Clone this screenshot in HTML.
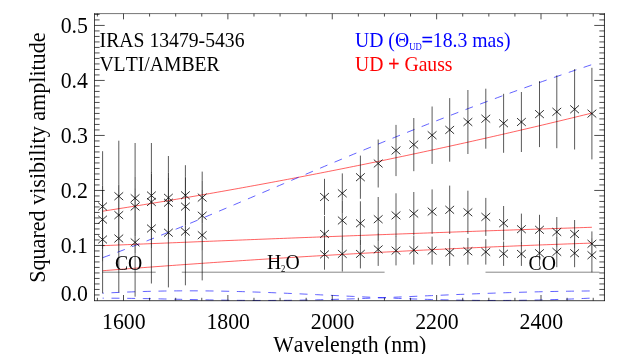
<!DOCTYPE html>
<html><head><meta charset="utf-8"><title>IRAS 13479-5436 VLTI/AMBER</title>
<style>
html,body{margin:0;padding:0;background:#fff;}
body{width:629px;height:354px;overflow:hidden;position:relative;font-family:"Liberation Serif",serif;}
</style></head><body>
<svg width="629" height="354" viewBox="0 0 629 354" style="position:absolute;left:0;top:0;will-change:transform;font-kerning:none;font-variant-ligatures:none;font-family:'Liberation Serif',serif">
<rect width="629" height="354" fill="#fff"/>
<path d="M102.60,211.21 L106.71,210.57 L110.82,209.93 L114.94,209.28 L119.05,208.63 L123.16,207.98 L127.27,207.33 L131.38,206.67 L135.49,206.01 L139.61,205.35 L143.72,204.68 L147.83,204.01 L151.94,203.34 L156.05,202.66 L160.16,201.98 L164.28,201.30 L168.39,200.61 L172.50,199.92 L176.61,199.23 L180.72,198.53 L184.84,197.84 L188.95,197.13 L193.06,196.43 L197.17,195.72 L201.28,195.01 L205.39,194.30 L209.51,193.58 L213.62,192.86 L217.73,192.14 L221.84,191.41 L225.95,190.68 L230.06,189.95 L234.18,189.21 L238.29,188.47 L242.40,187.73 L246.51,186.98 L250.62,186.23 L254.74,185.48 L258.85,184.72 L262.96,183.97 L267.07,183.21 L271.18,182.44 L275.29,181.67 L279.41,180.90 L283.52,180.13 L287.63,179.35 L291.74,178.57 L295.85,177.79 L299.96,177.00 L304.08,176.21 L308.19,175.42 L312.30,174.62 L316.41,173.82 L320.52,173.02 L324.64,172.21 L328.75,171.40 L332.86,170.59 L336.97,169.78 L341.08,168.96 L345.19,168.14 L349.31,167.31 L353.42,166.48 L357.53,165.65 L361.64,164.82 L365.75,163.98 L369.86,163.14 L373.98,162.30 L378.09,161.45 L382.20,160.60 L386.31,159.75 L390.42,158.89 L394.54,158.03 L398.65,157.17 L402.76,156.30 L406.87,155.44 L410.98,154.56 L415.09,153.69 L419.21,152.81 L423.32,151.93 L427.43,151.04 L431.54,150.16 L435.65,149.27 L439.76,148.37 L443.88,147.47 L447.99,146.57 L452.10,145.67 L456.21,144.76 L460.32,143.85 L464.44,142.94 L468.55,142.02 L472.66,141.11 L476.77,140.18 L480.88,139.26 L484.99,138.33 L489.11,137.40 L493.22,136.46 L497.33,135.52 L501.44,134.58 L505.55,133.64 L509.66,132.69 L513.78,131.74 L517.89,130.79 L522.00,129.83 L526.11,128.87 L530.22,127.90 L534.34,126.94 L538.45,125.97 L542.56,125.00 L546.67,124.02 L550.78,123.04 L554.89,122.06 L559.01,121.07 L563.12,120.08 L567.23,119.09 L571.34,118.10 L575.45,117.10 L579.56,116.10 L583.68,115.09 L587.79,114.08 L591.90,113.07" fill="none" stroke="#ff0000" stroke-width="0.62"/>
<path d="M102.60,245.68 L106.71,245.51 L110.82,245.33 L114.94,245.16 L119.05,244.99 L123.16,244.82 L127.27,244.65 L131.38,244.47 L135.49,244.30 L139.61,244.13 L143.72,243.96 L147.83,243.79 L151.94,243.62 L156.05,243.45 L160.16,243.29 L164.28,243.12 L168.39,242.95 L172.50,242.78 L176.61,242.61 L180.72,242.45 L184.84,242.28 L188.95,242.11 L193.06,241.95 L197.17,241.78 L201.28,241.61 L205.39,241.45 L209.51,241.28 L213.62,241.12 L217.73,240.95 L221.84,240.79 L225.95,240.62 L230.06,240.46 L234.18,240.30 L238.29,240.13 L242.40,239.97 L246.51,239.81 L250.62,239.65 L254.74,239.49 L258.85,239.32 L262.96,239.16 L267.07,239.00 L271.18,238.84 L275.29,238.68 L279.41,238.52 L283.52,238.36 L287.63,238.20 L291.74,238.04 L295.85,237.89 L299.96,237.73 L304.08,237.57 L308.19,237.41 L312.30,237.25 L316.41,237.10 L320.52,236.94 L324.64,236.78 L328.75,236.63 L332.86,236.47 L336.97,236.32 L341.08,236.16 L345.19,236.01 L349.31,235.85 L353.42,235.70 L357.53,235.54 L361.64,235.39 L365.75,235.24 L369.86,235.08 L373.98,234.93 L378.09,234.78 L382.20,234.63 L386.31,234.47 L390.42,234.32 L394.54,234.17 L398.65,234.02 L402.76,233.87 L406.87,233.72 L410.98,233.57 L415.09,233.42 L419.21,233.27 L423.32,233.12 L427.43,232.97 L431.54,232.82 L435.65,232.68 L439.76,232.53 L443.88,232.38 L447.99,232.23 L452.10,232.09 L456.21,231.94 L460.32,231.80 L464.44,231.65 L468.55,231.50 L472.66,231.36 L476.77,231.21 L480.88,231.07 L484.99,230.93 L489.11,230.78 L493.22,230.64 L497.33,230.49 L501.44,230.35 L505.55,230.21 L509.66,230.07 L513.78,229.92 L517.89,229.78 L522.00,229.64 L526.11,229.50 L530.22,229.36 L534.34,229.22 L538.45,229.08 L542.56,228.94 L546.67,228.80 L550.78,228.66 L554.89,228.52 L559.01,228.38 L563.12,228.24 L567.23,228.11 L571.34,227.97 L575.45,227.83 L579.56,227.69 L583.68,227.56 L587.79,227.42 L591.90,227.28" fill="none" stroke="#ff0000" stroke-width="0.62"/>
<path d="M102.60,270.75 L106.71,270.42 L110.82,270.10 L114.94,269.78 L119.05,269.46 L123.16,269.14 L127.27,268.82 L131.38,268.51 L135.49,268.20 L139.61,267.88 L143.72,267.57 L147.83,267.26 L151.94,266.96 L156.05,266.65 L160.16,266.35 L164.28,266.04 L168.39,265.74 L172.50,265.44 L176.61,265.14 L180.72,264.85 L184.84,264.55 L188.95,264.26 L193.06,263.97 L197.17,263.68 L201.28,263.39 L205.39,263.10 L209.51,262.82 L213.62,262.53 L217.73,262.25 L221.84,261.97 L225.95,261.69 L230.06,261.41 L234.18,261.14 L238.29,260.86 L242.40,260.59 L246.51,260.32 L250.62,260.05 L254.74,259.78 L258.85,259.51 L262.96,259.25 L267.07,258.98 L271.18,258.72 L275.29,258.46 L279.41,258.20 L283.52,257.94 L287.63,257.69 L291.74,257.43 L295.85,257.18 L299.96,256.93 L304.08,256.68 L308.19,256.43 L312.30,256.18 L316.41,255.94 L320.52,255.70 L324.64,255.45 L328.75,255.21 L332.86,254.98 L336.97,254.74 L341.08,254.50 L345.19,254.27 L349.31,254.04 L353.42,253.81 L357.53,253.58 L361.64,253.35 L365.75,253.12 L369.86,252.90 L373.98,252.67 L378.09,252.45 L382.20,252.23 L386.31,252.01 L390.42,251.80 L394.54,251.58 L398.65,251.37 L402.76,251.16 L406.87,250.95 L410.98,250.74 L415.09,250.53 L419.21,250.32 L423.32,250.12 L427.43,249.92 L431.54,249.71 L435.65,249.52 L439.76,249.32 L443.88,249.12 L447.99,248.93 L452.10,248.73 L456.21,248.54 L460.32,248.35 L464.44,248.16 L468.55,247.97 L472.66,247.79 L476.77,247.60 L480.88,247.42 L484.99,247.24 L489.11,247.06 L493.22,246.88 L497.33,246.71 L501.44,246.53 L505.55,246.36 L509.66,246.19 L513.78,246.02 L517.89,245.85 L522.00,245.68 L526.11,245.52 L530.22,245.35 L534.34,245.19 L538.45,245.03 L542.56,244.87 L546.67,244.71 L550.78,244.56 L554.89,244.40 L559.01,244.25 L563.12,244.10 L567.23,243.95 L571.34,243.80 L575.45,243.66 L579.56,243.51 L583.68,243.37 L587.79,243.23 L591.90,243.09" fill="none" stroke="#ff0000" stroke-width="0.62"/>
<path d="M102.60,257.71 L106.71,256.21 L110.82,254.70 L114.94,253.18 L119.05,251.64 L123.16,250.09 L127.27,248.52 L131.38,246.94 L135.49,245.35 L139.61,243.75 L143.72,242.13 L147.83,240.51 L151.94,238.88 L156.05,237.23 L160.16,235.58 L164.28,233.92 L168.39,232.25 L172.50,230.57 L176.61,228.89 L180.72,227.20 L184.84,225.50 L188.95,223.80 L193.06,222.09 L197.17,220.37 L201.28,218.65 L205.39,216.93 L209.51,215.20 L213.62,213.46 L217.73,211.73 L221.84,209.99 L225.95,208.25 L230.06,206.50 L234.18,204.75 L238.29,203.00 L242.40,201.25 L246.51,199.50 L250.62,197.75 L254.74,196.00 L258.85,194.24 L262.96,192.49 L267.07,190.73 L271.18,188.98 L275.29,187.22 L279.41,185.47 L283.52,183.72 L287.63,181.97 L291.74,180.22 L295.85,178.47 L299.96,176.72 L304.08,174.98 L308.19,173.24 L312.30,171.50 L316.41,169.76 L320.52,168.02 L324.64,166.29 L328.75,164.56 L332.86,162.84 L336.97,161.11 L341.08,159.40 L345.19,157.68 L349.31,155.97 L353.42,154.26 L357.53,152.56 L361.64,150.86 L365.75,149.16 L369.86,147.47 L373.98,145.79 L378.09,144.11 L382.20,142.43 L386.31,140.76 L390.42,139.09 L394.54,137.43 L398.65,135.77 L402.76,134.12 L406.87,132.47 L410.98,130.83 L415.09,129.19 L419.21,127.56 L423.32,125.94 L427.43,124.32 L431.54,122.71 L435.65,121.10 L439.76,119.50 L443.88,117.90 L447.99,116.31 L452.10,114.72 L456.21,113.15 L460.32,111.57 L464.44,110.01 L468.55,108.45 L472.66,106.89 L476.77,105.35 L480.88,103.80 L484.99,102.27 L489.11,100.74 L493.22,99.22 L497.33,97.70 L501.44,96.19 L505.55,94.69 L509.66,93.19 L513.78,91.70 L517.89,90.22 L522.00,88.74 L526.11,87.27 L530.22,85.80 L534.34,84.34 L538.45,82.89 L542.56,81.45 L546.67,80.01 L550.78,78.58 L554.89,77.15 L559.01,75.73 L563.12,74.32 L567.23,72.91 L571.34,71.51 L575.45,70.12 L579.56,68.74 L583.68,67.36 L587.79,65.98 L591.90,64.62" fill="none" stroke="#0000ff" stroke-width="0.62" stroke-dasharray="8 7.68" stroke-dashoffset="0"/>
<path d="M102.60,293.20 L106.71,292.99 L110.82,292.78 L114.94,292.59 L119.05,292.40 L123.16,292.22 L127.27,292.06 L131.38,291.90 L135.49,291.75 L139.61,291.62 L143.72,291.49 L147.83,291.38 L151.94,291.27 L156.05,291.18 L160.16,291.10 L164.28,291.02 L168.39,290.96 L172.50,290.91 L176.61,290.88 L180.72,290.85 L184.84,290.83 L188.95,290.83 L193.06,290.83 L197.17,290.85 L201.28,290.87 L205.39,290.91 L209.51,290.95 L213.62,291.01 L217.73,291.07 L221.84,291.14 L225.95,291.23 L230.06,291.32 L234.18,291.42 L238.29,291.52 L242.40,291.64 L246.51,291.76 L250.62,291.89 L254.74,292.03 L258.85,292.17 L262.96,292.32 L267.07,292.47 L271.18,292.63 L275.29,292.80 L279.41,292.97 L283.52,293.14 L287.63,293.32 L291.74,293.50 L295.85,293.69 L299.96,293.87 L304.08,294.07 L308.19,294.26 L312.30,294.45 L316.41,294.65 L320.52,294.85 L324.64,295.04 L328.75,295.24 L332.86,295.44 L336.97,295.64 L341.08,295.84 L345.19,296.04 L349.31,296.23 L353.42,296.43 L357.53,296.62 L361.64,296.81 L365.75,297.00 L369.86,297.19 L373.98,297.37 L378.09,297.56 L382.20,297.73 L386.31,297.91 L390.42,298.08 L394.54,298.24 L398.65,298.40 L402.76,298.56 L406.87,298.71 L410.98,298.86 L415.09,299.00 L419.21,299.14 L423.32,299.27 L427.43,299.39 L431.54,299.51 L435.65,299.62 L439.76,299.73 L443.88,299.83 L447.99,299.92 L452.10,300.00 L456.21,300.08 L460.32,300.15 L464.44,300.22 L468.55,300.27 L472.66,300.32 L476.77,300.36 L480.88,300.40 L484.99,300.42 L489.11,300.44 L493.22,300.45 L497.33,300.45 L501.44,300.44 L505.55,300.43 L509.66,300.40 L513.78,300.37 L517.89,300.33 L522.00,300.28 L526.11,300.22 L530.22,300.15 L534.34,300.07 L538.45,299.99 L542.56,299.90 L546.67,299.79 L550.78,299.68 L554.89,299.56 L559.01,299.43 L563.12,299.29 L567.23,299.14 L571.34,298.99 L575.45,298.82 L579.56,298.64 L583.68,298.46 L587.79,298.27 L591.90,298.06" fill="none" stroke="#0000ff" stroke-width="0.62" stroke-dasharray="8 7.68" stroke-dashoffset="6.8"/>
<path d="M102.60,298.16 L106.71,298.17 L110.82,298.19 L114.94,298.21 L119.05,298.24 L123.16,298.28 L127.27,298.33 L131.38,298.38 L135.49,298.44 L139.61,298.50 L143.72,298.57 L147.83,298.64 L151.94,298.72 L156.05,298.80 L160.16,298.88 L164.28,298.97 L168.39,299.06 L172.50,299.15 L176.61,299.24 L180.72,299.33 L184.84,299.41 L188.95,299.50 L193.06,299.59 L197.17,299.68 L201.28,299.76 L205.39,299.84 L209.51,299.92 L213.62,299.99 L217.73,300.06 L221.84,300.12 L225.95,300.18 L230.06,300.24 L234.18,300.28 L238.29,300.33 L242.40,300.36 L246.51,300.39 L250.62,300.42 L254.74,300.44 L258.85,300.45 L262.96,300.45 L267.07,300.45 L271.18,300.44 L275.29,300.42 L279.41,300.39 L283.52,300.36 L287.63,300.32 L291.74,300.27 L295.85,300.22 L299.96,300.16 L304.08,300.09 L308.19,300.02 L312.30,299.94 L316.41,299.85 L320.52,299.75 L324.64,299.65 L328.75,299.55 L332.86,299.43 L336.97,299.32 L341.08,299.19 L345.19,299.06 L349.31,298.93 L353.42,298.79 L357.53,298.65 L361.64,298.50 L365.75,298.35 L369.86,298.20 L373.98,298.04 L378.09,297.88 L382.20,297.71 L386.31,297.55 L390.42,297.38 L394.54,297.21 L398.65,297.03 L402.76,296.86 L406.87,296.68 L410.98,296.50 L415.09,296.33 L419.21,296.15 L423.32,295.97 L427.43,295.79 L431.54,295.62 L435.65,295.44 L439.76,295.26 L443.88,295.09 L447.99,294.91 L452.10,294.74 L456.21,294.57 L460.32,294.40 L464.44,294.24 L468.55,294.07 L472.66,293.91 L476.77,293.75 L480.88,293.59 L484.99,293.44 L489.11,293.29 L493.22,293.15 L497.33,293.00 L501.44,292.86 L505.55,292.73 L509.66,292.60 L513.78,292.47 L517.89,292.35 L522.00,292.23 L526.11,292.11 L530.22,292.00 L534.34,291.90 L538.45,291.80 L542.56,291.70 L546.67,291.61 L550.78,291.53 L554.89,291.44 L559.01,291.37 L563.12,291.30 L567.23,291.23 L571.34,291.17 L575.45,291.11 L579.56,291.06 L583.68,291.02 L587.79,290.97 L591.90,290.94" fill="none" stroke="#0000ff" stroke-width="0.62" stroke-dasharray="8 7.68" stroke-dashoffset="6.8"/>
<line x1="102.3" y1="272.2" x2="155.7" y2="272.2" stroke="#000" stroke-width="0.6" stroke-opacity="0.8"/>
<line x1="181.8" y1="272.2" x2="384.6" y2="272.2" stroke="#000" stroke-width="0.6" stroke-opacity="0.8"/>
<line x1="485.5" y1="272.2" x2="599.5" y2="272.2" stroke="#000" stroke-width="0.6" stroke-opacity="0.8"/>
<line x1="102.6" y1="151.2" x2="102.6" y2="185.7" stroke="#000" stroke-width="0.65"/>
<line x1="102.6" y1="185.7" x2="102.6" y2="189.6" stroke="#000" stroke-width="0.77"/>
<line x1="102.6" y1="189.6" x2="102.6" y2="249.6" stroke="#000" stroke-width="0.85"/>
<line x1="102.6" y1="249.6" x2="102.6" y2="261.8" stroke="#000" stroke-width="0.77"/>
<line x1="102.6" y1="261.8" x2="102.6" y2="293.3" stroke="#000" stroke-width="0.65"/>
<line x1="118.8" y1="140.7" x2="118.8" y2="184.6" stroke="#000" stroke-width="0.65"/>
<line x1="118.8" y1="184.6" x2="118.8" y2="185.1" stroke="#000" stroke-width="0.77"/>
<line x1="118.8" y1="185.1" x2="118.8" y2="245.1" stroke="#000" stroke-width="0.85"/>
<line x1="118.8" y1="245.1" x2="118.8" y2="251.7" stroke="#000" stroke-width="0.77"/>
<line x1="118.8" y1="251.7" x2="118.8" y2="292.4" stroke="#000" stroke-width="0.65"/>
<line x1="135.1" y1="143.0" x2="135.1" y2="176.5" stroke="#000" stroke-width="0.65"/>
<line x1="135.1" y1="176.5" x2="135.1" y2="188.1" stroke="#000" stroke-width="0.77"/>
<line x1="135.1" y1="188.1" x2="135.1" y2="236.5" stroke="#000" stroke-width="0.85"/>
<line x1="135.1" y1="236.5" x2="135.1" y2="253.4" stroke="#000" stroke-width="0.77"/>
<line x1="135.1" y1="253.4" x2="135.1" y2="296.7" stroke="#000" stroke-width="0.65"/>
<line x1="151.4" y1="143.0" x2="151.4" y2="172.0" stroke="#000" stroke-width="0.65"/>
<line x1="151.4" y1="172.0" x2="151.4" y2="173.5" stroke="#000" stroke-width="0.77"/>
<line x1="151.4" y1="173.5" x2="151.4" y2="232.0" stroke="#000" stroke-width="0.85"/>
<line x1="151.4" y1="232.0" x2="151.4" y2="248.0" stroke="#000" stroke-width="0.77"/>
<line x1="151.4" y1="248.0" x2="151.4" y2="283.5" stroke="#000" stroke-width="0.65"/>
<line x1="168.4" y1="156.0" x2="168.4" y2="172.7" stroke="#000" stroke-width="0.65"/>
<line x1="168.4" y1="172.7" x2="168.4" y2="178.0" stroke="#000" stroke-width="0.77"/>
<line x1="168.4" y1="178.0" x2="168.4" y2="232.7" stroke="#000" stroke-width="0.85"/>
<line x1="168.4" y1="232.7" x2="168.4" y2="239.6" stroke="#000" stroke-width="0.77"/>
<line x1="168.4" y1="239.6" x2="168.4" y2="287.4" stroke="#000" stroke-width="0.65"/>
<line x1="185.4" y1="165.2" x2="185.4" y2="176.6" stroke="#000" stroke-width="0.65"/>
<line x1="185.4" y1="176.6" x2="185.4" y2="177.9" stroke="#000" stroke-width="0.77"/>
<line x1="185.4" y1="177.9" x2="185.4" y2="225.4" stroke="#000" stroke-width="0.85"/>
<line x1="185.4" y1="225.4" x2="185.4" y2="236.6" stroke="#000" stroke-width="0.77"/>
<line x1="185.4" y1="236.6" x2="185.4" y2="285.3" stroke="#000" stroke-width="0.65"/>
<line x1="202.2" y1="171.6" x2="202.2" y2="180.7" stroke="#000" stroke-width="0.65"/>
<line x1="202.2" y1="180.7" x2="202.2" y2="190.0" stroke="#000" stroke-width="0.77"/>
<line x1="202.2" y1="190.0" x2="202.2" y2="223.6" stroke="#000" stroke-width="0.85"/>
<line x1="202.2" y1="223.6" x2="202.2" y2="250.7" stroke="#000" stroke-width="0.77"/>
<line x1="202.2" y1="250.7" x2="202.2" y2="280.4" stroke="#000" stroke-width="0.65"/>
<line x1="324.5" y1="178.8" x2="324.5" y2="215.2" stroke="#000" stroke-width="0.65"/>
<line x1="324.5" y1="216.0" x2="324.5" y2="239.1" stroke="#000" stroke-width="0.65"/>
<line x1="324.5" y1="239.1" x2="324.5" y2="252.0" stroke="#000" stroke-width="0.77"/>
<line x1="324.5" y1="252.0" x2="324.5" y2="269.7" stroke="#000" stroke-width="0.65"/>
<line x1="342.3" y1="173.4" x2="342.3" y2="200.5" stroke="#000" stroke-width="0.65"/>
<line x1="342.3" y1="200.5" x2="342.3" y2="213.2" stroke="#000" stroke-width="0.77"/>
<line x1="342.3" y1="213.2" x2="342.3" y2="236.3" stroke="#000" stroke-width="0.65"/>
<line x1="342.3" y1="236.3" x2="342.3" y2="240.5" stroke="#000" stroke-width="0.77"/>
<line x1="342.3" y1="240.5" x2="342.3" y2="271.5" stroke="#000" stroke-width="0.65"/>
<line x1="360.4" y1="155.6" x2="360.4" y2="198.8" stroke="#000" stroke-width="0.65"/>
<line x1="360.4" y1="201.3" x2="360.4" y2="239.4" stroke="#000" stroke-width="0.65"/>
<line x1="360.4" y1="239.4" x2="360.4" y2="245.3" stroke="#000" stroke-width="0.77"/>
<line x1="360.4" y1="245.3" x2="360.4" y2="268.4" stroke="#000" stroke-width="0.65"/>
<line x1="378.2" y1="139.5" x2="378.2" y2="187.5" stroke="#000" stroke-width="0.65"/>
<line x1="378.2" y1="197.0" x2="378.2" y2="232.9" stroke="#000" stroke-width="0.65"/>
<line x1="378.2" y1="232.9" x2="378.2" y2="241.4" stroke="#000" stroke-width="0.77"/>
<line x1="378.2" y1="241.4" x2="378.2" y2="265.9" stroke="#000" stroke-width="0.65"/>
<line x1="396.0" y1="124.9" x2="396.0" y2="176.1" stroke="#000" stroke-width="0.65"/>
<line x1="396.0" y1="193.3" x2="396.0" y2="235.8" stroke="#000" stroke-width="0.65"/>
<line x1="396.0" y1="235.8" x2="396.0" y2="237.5" stroke="#000" stroke-width="0.77"/>
<line x1="396.0" y1="237.5" x2="396.0" y2="265.4" stroke="#000" stroke-width="0.65"/>
<line x1="413.8" y1="118.0" x2="413.8" y2="171.2" stroke="#000" stroke-width="0.65"/>
<line x1="413.8" y1="192.0" x2="413.8" y2="235.2" stroke="#000" stroke-width="0.65"/>
<line x1="413.8" y1="235.6" x2="413.8" y2="264.6" stroke="#000" stroke-width="0.65"/>
<line x1="432.1" y1="106.5" x2="432.1" y2="163.9" stroke="#000" stroke-width="0.65"/>
<line x1="432.1" y1="189.4" x2="432.1" y2="233.8" stroke="#000" stroke-width="0.65"/>
<line x1="432.1" y1="236.6" x2="432.1" y2="264.6" stroke="#000" stroke-width="0.65"/>
<line x1="449.7" y1="98.1" x2="449.7" y2="161.7" stroke="#000" stroke-width="0.65"/>
<line x1="449.7" y1="185.6" x2="449.7" y2="234.0" stroke="#000" stroke-width="0.65"/>
<line x1="449.7" y1="238.9" x2="449.7" y2="265.9" stroke="#000" stroke-width="0.65"/>
<line x1="467.9" y1="90.0" x2="467.9" y2="154.0" stroke="#000" stroke-width="0.65"/>
<line x1="467.9" y1="190.7" x2="467.9" y2="233.9" stroke="#000" stroke-width="0.65"/>
<line x1="467.9" y1="237.9" x2="467.9" y2="264.7" stroke="#000" stroke-width="0.65"/>
<line x1="485.8" y1="88.7" x2="485.8" y2="148.7" stroke="#000" stroke-width="0.65"/>
<line x1="485.8" y1="197.9" x2="485.8" y2="235.9" stroke="#000" stroke-width="0.65"/>
<line x1="485.8" y1="239.2" x2="485.8" y2="264.6" stroke="#000" stroke-width="0.65"/>
<line x1="503.6" y1="93.8" x2="503.6" y2="152.8" stroke="#000" stroke-width="0.65"/>
<line x1="503.6" y1="206.0" x2="503.6" y2="240.4" stroke="#000" stroke-width="0.65"/>
<line x1="503.6" y1="241.5" x2="503.6" y2="265.9" stroke="#000" stroke-width="0.65"/>
<line x1="521.4" y1="92.0" x2="521.4" y2="152.0" stroke="#000" stroke-width="0.65"/>
<line x1="521.4" y1="213.6" x2="521.4" y2="241.9" stroke="#000" stroke-width="0.65"/>
<line x1="521.4" y1="241.9" x2="521.4" y2="244.8" stroke="#000" stroke-width="0.77"/>
<line x1="521.4" y1="244.8" x2="521.4" y2="265.9" stroke="#000" stroke-width="0.65"/>
<line x1="539.5" y1="81.1" x2="539.5" y2="147.1" stroke="#000" stroke-width="0.65"/>
<line x1="539.5" y1="214.8" x2="539.5" y2="240.2" stroke="#000" stroke-width="0.65"/>
<line x1="539.5" y1="240.2" x2="539.5" y2="244.8" stroke="#000" stroke-width="0.77"/>
<line x1="539.5" y1="244.8" x2="539.5" y2="266.2" stroke="#000" stroke-width="0.65"/>
<line x1="556.8" y1="75.4" x2="556.8" y2="148.2" stroke="#000" stroke-width="0.65"/>
<line x1="556.8" y1="217.0" x2="556.8" y2="236.6" stroke="#000" stroke-width="0.65"/>
<line x1="556.8" y1="236.6" x2="556.8" y2="247.0" stroke="#000" stroke-width="0.77"/>
<line x1="556.8" y1="247.0" x2="556.8" y2="267.2" stroke="#000" stroke-width="0.65"/>
<line x1="574.6" y1="69.1" x2="574.6" y2="149.5" stroke="#000" stroke-width="0.65"/>
<line x1="574.6" y1="220.0" x2="574.6" y2="239.2" stroke="#000" stroke-width="0.65"/>
<line x1="574.6" y1="239.2" x2="574.6" y2="248.0" stroke="#000" stroke-width="0.77"/>
<line x1="574.6" y1="248.0" x2="574.6" y2="267.2" stroke="#000" stroke-width="0.65"/>
<line x1="591.9" y1="67.8" x2="591.9" y2="159.4" stroke="#000" stroke-width="0.65"/>
<line x1="591.9" y1="231.4" x2="591.9" y2="238.1" stroke="#000" stroke-width="0.65"/>
<line x1="591.9" y1="238.1" x2="591.9" y2="256.2" stroke="#000" stroke-width="0.77"/>
<line x1="591.9" y1="256.2" x2="591.9" y2="272.3" stroke="#000" stroke-width="0.65"/>
<path d="M98.2,202.6 L107.0,210.4 M98.2,210.4 L107.0,202.6 M114.4,192.3 L123.2,200.1 M114.4,200.1 L123.2,192.3 M130.7,194.3 L139.5,202.1 M130.7,202.1 L139.5,194.3 M147.0,191.6 L155.8,199.4 M147.0,199.4 L155.8,191.6 M164.0,193.9 L172.8,201.7 M164.0,201.7 L172.8,193.9 M181.0,191.4 L189.8,199.2 M181.0,199.2 L189.8,191.4 M197.8,193.7 L206.6,201.5 M197.8,201.5 L206.6,193.7" stroke="#000" stroke-width="0.8" fill="none"/>
<path d="M98.2,215.7 L107.0,223.5 M98.2,223.5 L107.0,215.7 M114.4,211.2 L123.2,219.0 M114.4,219.0 L123.2,211.2 M130.7,202.6 L139.5,210.4 M130.7,210.4 L139.5,202.6 M147.0,198.1 L155.8,205.9 M147.0,205.9 L155.8,198.1 M164.0,198.8 L172.8,206.6 M164.0,206.6 L172.8,198.8 M181.0,202.7 L189.8,210.5 M181.0,210.5 L189.8,202.7 M197.8,211.8 L206.6,219.6 M197.8,219.6 L206.6,211.8" stroke="#000" stroke-width="0.8" fill="none"/>
<path d="M98.2,235.6 L107.0,243.4 M98.2,243.4 L107.0,235.6 M114.4,234.6 L123.2,242.4 M114.4,242.4 L123.2,234.6 M130.7,238.5 L139.5,246.3 M130.7,246.3 L139.5,238.5 M147.0,224.6 L155.8,232.4 M147.0,232.4 L155.8,224.6 M164.0,228.8 L172.8,236.6 M164.0,236.6 L172.8,228.8 M181.0,227.7 L189.8,235.5 M181.0,235.5 L189.8,227.7 M197.8,231.3 L206.6,239.1 M197.8,239.1 L206.6,231.3" stroke="#000" stroke-width="0.8" fill="none"/>
<path d="M320.1,193.1 L328.9,200.9 M320.1,200.9 L328.9,193.1 M337.9,189.4 L346.7,197.2 M337.9,197.2 L346.7,189.4 M356.0,173.3 L364.8,181.1 M356.0,181.1 L364.8,173.3 M373.8,159.6 L382.6,167.4 M373.8,167.4 L382.6,159.6 M391.6,146.6 L400.4,154.4 M391.6,154.4 L400.4,146.6 M409.4,140.7 L418.2,148.5 M409.4,148.5 L418.2,140.7 M427.7,131.3 L436.5,139.1 M427.7,139.1 L436.5,131.3 M445.3,126.0 L454.1,133.8 M445.3,133.8 L454.1,126.0 M463.5,118.1 L472.3,125.9 M463.5,125.9 L472.3,118.1 M481.4,114.8 L490.2,122.6 M481.4,122.6 L490.2,114.8 M499.2,119.4 L508.0,127.2 M499.2,127.2 L508.0,119.4 M517.0,118.1 L525.8,125.9 M517.0,125.9 L525.8,118.1 M535.1,110.2 L543.9,118.0 M535.1,118.0 L543.9,110.2 M552.4,107.9 L561.2,115.7 M552.4,115.7 L561.2,107.9 M570.2,105.4 L579.0,113.2 M570.2,113.2 L579.0,105.4 M587.5,109.7 L596.3,117.5 M587.5,117.5 L596.3,109.7" stroke="#000" stroke-width="0.8" fill="none"/>
<path d="M320.1,230.1 L328.9,237.9 M320.1,237.9 L328.9,230.1 M337.9,216.6 L346.7,224.4 M337.9,224.4 L346.7,216.6 M356.0,219.4 L364.8,227.2 M356.0,227.2 L364.8,219.4 M373.8,215.3 L382.6,223.1 M373.8,223.1 L382.6,215.3 M391.6,211.5 L400.4,219.3 M391.6,219.3 L400.4,211.5 M409.4,209.7 L418.2,217.5 M409.4,217.5 L418.2,209.7 M427.7,207.7 L436.5,215.5 M427.7,215.5 L436.5,207.7 M445.3,205.9 L454.1,213.7 M445.3,213.7 L454.1,205.9 M463.5,208.4 L472.3,216.2 M463.5,216.2 L472.3,208.4 M481.4,213.0 L490.2,220.8 M481.4,220.8 L490.2,213.0 M499.2,219.3 L508.0,227.1 M499.2,227.1 L508.0,219.3 M517.0,225.3 L525.8,233.1 M517.0,233.1 L525.8,225.3 M535.1,225.9 L543.9,233.7 M535.1,233.7 L543.9,225.9 M552.4,228.1 L561.2,235.9 M552.4,235.9 L561.2,228.1 M570.2,230.1 L579.0,237.9 M570.2,237.9 L579.0,230.1 M587.5,239.9 L596.3,247.7 M587.5,247.7 L596.3,239.9" stroke="#000" stroke-width="0.8" fill="none"/>
<path d="M320.1,250.5 L328.9,258.3 M320.1,258.3 L328.9,250.5 M337.9,250.0 L346.7,257.8 M337.9,257.8 L346.7,250.0 M356.0,250.0 L364.8,257.8 M356.0,257.8 L364.8,250.0 M373.8,245.5 L382.6,253.3 M373.8,253.3 L382.6,245.5 M391.6,246.7 L400.4,254.5 M391.6,254.5 L400.4,246.7 M409.4,246.2 L418.2,254.0 M409.4,254.0 L418.2,246.2 M427.7,246.7 L436.5,254.5 M427.7,254.5 L436.5,246.7 M445.3,248.5 L454.1,256.3 M445.3,256.3 L454.1,248.5 M463.5,247.4 L472.3,255.2 M463.5,255.2 L472.3,247.4 M481.4,248.0 L490.2,255.8 M481.4,255.8 L490.2,248.0 M499.2,249.8 L508.0,257.6 M499.2,257.6 L508.0,249.8 M517.0,250.0 L525.8,257.8 M517.0,257.8 L525.8,250.0 M535.1,249.3 L543.9,257.1 M535.1,257.1 L543.9,249.3 M552.4,248.0 L561.2,255.8 M552.4,255.8 L561.2,248.0 M570.2,249.3 L579.0,257.1 M570.2,257.1 L579.0,249.3 M587.5,251.3 L596.3,259.1 M587.5,259.1 L596.3,251.3" stroke="#000" stroke-width="0.8" fill="none"/>
<line x1="94.15" y1="13.6" x2="604.85" y2="13.6" stroke="#000" stroke-width="0.55"/>
<line x1="94.15" y1="300.7" x2="604.85" y2="300.7" stroke="#000" stroke-width="0.75"/>
<line x1="94.5" y1="13.35" x2="94.5" y2="301.05" stroke="#000" stroke-width="0.72"/>
<line x1="604.45" y1="13.35" x2="604.45" y2="301.05" stroke="#000" stroke-width="0.8"/>
<path d="M97.40,300.7 v-2.9 M97.40,13.65 v2.9 M123.50,300.7 v-5.7 M123.50,13.65 v5.7 M149.59,300.7 v-2.9 M149.59,13.65 v2.9 M175.69,300.7 v-2.9 M175.69,13.65 v2.9 M201.78,300.7 v-2.9 M201.78,13.65 v2.9 M227.88,300.7 v-5.7 M227.88,13.65 v5.7 M253.97,300.7 v-2.9 M253.97,13.65 v2.9 M280.07,300.7 v-2.9 M280.07,13.65 v2.9 M306.16,300.7 v-2.9 M306.16,13.65 v2.9 M332.25,300.7 v-5.7 M332.25,13.65 v5.7 M358.35,300.7 v-2.9 M358.35,13.65 v2.9 M384.45,300.7 v-2.9 M384.45,13.65 v2.9 M410.54,300.7 v-2.9 M410.54,13.65 v2.9 M436.63,300.7 v-5.7 M436.63,13.65 v5.7 M462.73,300.7 v-2.9 M462.73,13.65 v2.9 M488.83,300.7 v-2.9 M488.83,13.65 v2.9 M514.92,300.7 v-2.9 M514.92,13.65 v2.9 M541.01,300.7 v-5.7 M541.01,13.65 v5.7 M567.11,300.7 v-2.9 M567.11,13.65 v2.9 M593.21,300.7 v-2.9 M593.21,13.65 v2.9 M94.5,294.95 h5.1 M604.45,294.95 h-5.1 M94.5,289.45 h5.1 M604.45,289.45 h-5.1 M94.5,283.95 h5.1 M604.45,283.95 h-5.1 M94.5,278.45 h5.1 M604.45,278.45 h-5.1 M94.5,272.95 h5.1 M604.45,272.95 h-5.1 M94.5,267.45 h5.1 M604.45,267.45 h-5.1 M94.5,261.95 h5.1 M604.45,261.95 h-5.1 M94.5,256.45 h5.1 M604.45,256.45 h-5.1 M94.5,250.95 h5.1 M604.45,250.95 h-5.1 M94.5,245.44 h10.2 M604.45,245.44 h-10.2 M94.5,239.94 h5.1 M604.45,239.94 h-5.1 M94.5,234.44 h5.1 M604.45,234.44 h-5.1 M94.5,228.94 h5.1 M604.45,228.94 h-5.1 M94.5,223.44 h5.1 M604.45,223.44 h-5.1 M94.5,217.94 h5.1 M604.45,217.94 h-5.1 M94.5,212.44 h5.1 M604.45,212.44 h-5.1 M94.5,206.94 h5.1 M604.45,206.94 h-5.1 M94.5,201.44 h5.1 M604.45,201.44 h-5.1 M94.5,195.94 h5.1 M604.45,195.94 h-5.1 M94.5,190.44 h10.2 M604.45,190.44 h-10.2 M94.5,184.94 h5.1 M604.45,184.94 h-5.1 M94.5,179.44 h5.1 M604.45,179.44 h-5.1 M94.5,173.94 h5.1 M604.45,173.94 h-5.1 M94.5,168.44 h5.1 M604.45,168.44 h-5.1 M94.5,162.94 h5.1 M604.45,162.94 h-5.1 M94.5,157.44 h5.1 M604.45,157.44 h-5.1 M94.5,151.94 h5.1 M604.45,151.94 h-5.1 M94.5,146.44 h5.1 M604.45,146.44 h-5.1 M94.5,140.94 h5.1 M604.45,140.94 h-5.1 M94.5,135.44 h10.2 M604.45,135.44 h-10.2 M94.5,129.93 h5.1 M604.45,129.93 h-5.1 M94.5,124.43 h5.1 M604.45,124.43 h-5.1 M94.5,118.93 h5.1 M604.45,118.93 h-5.1 M94.5,113.43 h5.1 M604.45,113.43 h-5.1 M94.5,107.93 h5.1 M604.45,107.93 h-5.1 M94.5,102.43 h5.1 M604.45,102.43 h-5.1 M94.5,96.93 h5.1 M604.45,96.93 h-5.1 M94.5,91.43 h5.1 M604.45,91.43 h-5.1 M94.5,85.93 h5.1 M604.45,85.93 h-5.1 M94.5,80.43 h10.2 M604.45,80.43 h-10.2 M94.5,74.93 h5.1 M604.45,74.93 h-5.1 M94.5,69.43 h5.1 M604.45,69.43 h-5.1 M94.5,63.93 h5.1 M604.45,63.93 h-5.1 M94.5,58.43 h5.1 M604.45,58.43 h-5.1 M94.5,52.93 h5.1 M604.45,52.93 h-5.1 M94.5,47.43 h5.1 M604.45,47.43 h-5.1 M94.5,41.93 h5.1 M604.45,41.93 h-5.1 M94.5,36.43 h5.1 M604.45,36.43 h-5.1 M94.5,30.93 h5.1 M604.45,30.93 h-5.1 M94.5,25.43 h10.2 M604.45,25.43 h-10.2 M94.5,19.92 h5.1 M604.45,19.92 h-5.1 M94.5,14.42 h5.1 M604.45,14.42 h-5.1" stroke="#000" stroke-width="0.7" fill="none"/>
<text transform="translate(87.90,301.20) scale(1.0,1.09)" font-size="21.8" text-anchor="end">0.0</text>
<text transform="translate(87.90,253.34) scale(1.0,1.09)" font-size="21.8" text-anchor="end">0.1</text>
<text transform="translate(87.90,198.34) scale(1.0,1.09)" font-size="21.8" text-anchor="end">0.2</text>
<text transform="translate(87.90,143.34) scale(1.0,1.09)" font-size="21.8" text-anchor="end">0.3</text>
<text transform="translate(87.90,88.33) scale(1.0,1.09)" font-size="21.8" text-anchor="end">0.4</text>
<text transform="translate(87.90,33.33) scale(1.0,1.09)" font-size="21.8" text-anchor="end">0.5</text>
<text transform="translate(123.80,328.90) scale(1.0,1.09)" font-size="21.8" text-anchor="middle">1600</text>
<text transform="translate(228.18,328.90) scale(1.0,1.09)" font-size="21.8" text-anchor="middle">1800</text>
<text transform="translate(332.56,328.90) scale(1.0,1.09)" font-size="21.8" text-anchor="middle">2000</text>
<text transform="translate(436.94,328.90) scale(1.0,1.09)" font-size="21.8" text-anchor="middle">2200</text>
<text transform="translate(541.31,328.90) scale(1.0,1.09)" font-size="21.8" text-anchor="middle">2400</text>
<text transform="translate(349.80,351.90) scale(1.0,1.09)" font-size="21.8" text-anchor="middle">Wavelength (nm)</text>
<text transform="translate(44.50,157.60) rotate(-90) scale(1.014,1.09)" font-size="21.8" text-anchor="middle">Squared visibility amplitude</text>
<text transform="translate(99.60,47.00) scale(1.0,1.09)" font-size="19.7" text-anchor="start">IRAS 13479-5436</text>
<text transform="translate(99.40,70.80) scale(1.0,1.09)" font-size="19.7" text-anchor="start">VLTI/AMBER</text>
<text transform="translate(355.00,47.00) scale(1.0,1.09)" font-size="19.7" text-anchor="start" fill="#0000ff">UD (&#920;<tspan font-size="8.7" dy="2.8">UD</tspan><tspan dy="-2.8" stroke="#0000ff" stroke-width="0.45">=</tspan>18.3 mas)</text>
<text transform="translate(355.00,70.80) scale(1.0,1.09)" font-size="19.7" text-anchor="start" fill="#ff0000">UD <tspan stroke="#ff0000" stroke-width="0.4">+</tspan> Gauss</text>
<text transform="translate(114.90,269.70) scale(1.0,1.09)" font-size="19.7" text-anchor="start">CO</text>
<text transform="translate(528.60,270.00) scale(1.0,1.09)" font-size="19.7" text-anchor="start">CO</text>
<text transform="translate(266.90,269.30) scale(1.0,1.09)" font-size="19.7" text-anchor="start">H<tspan font-size="8.7" dy="2.4">2</tspan><tspan dy="-2.4">O</tspan></text>
</svg>
</body></html>
